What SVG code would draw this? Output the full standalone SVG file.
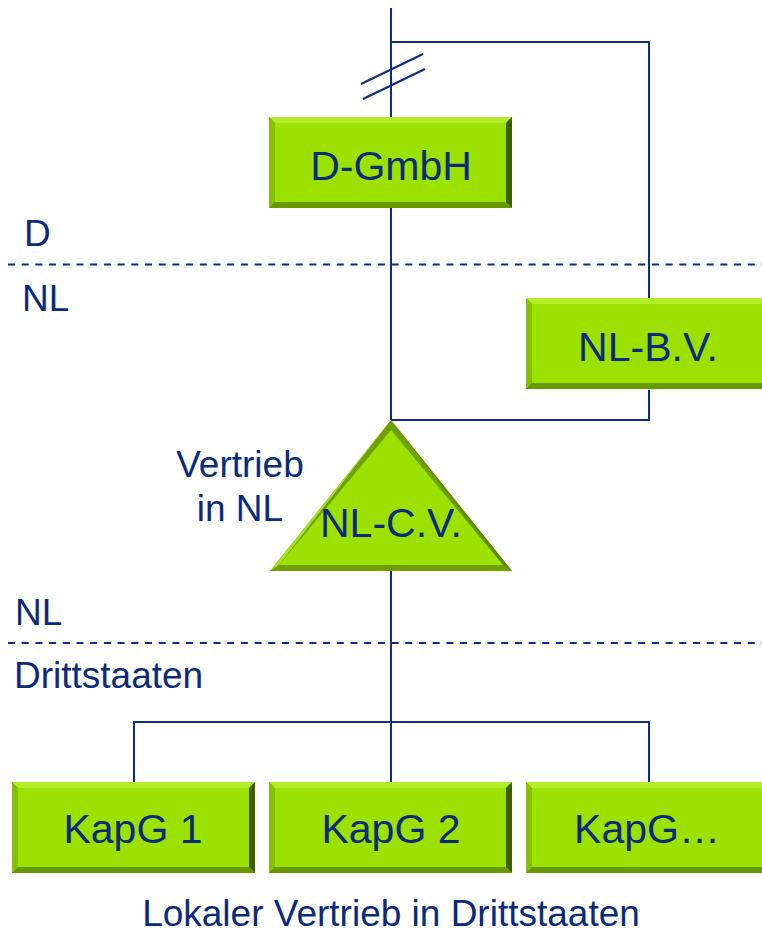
<svg xmlns="http://www.w3.org/2000/svg" xmlns:xlink="http://www.w3.org/1999/xlink" width="762" height="935" viewBox="0 0 762 935">
<style>
.ln{stroke:#0b2d83;stroke-width:2;fill:none}
.dash{stroke:#0b2d83;stroke-width:2;stroke-dasharray:7 6.7;fill:none}
.bt{font-family:"Liberation Sans",Arial,sans-serif;font-size:41px;fill:#0b2a7c;text-anchor:middle}
.lb{font-family:"Liberation Sans",Arial,sans-serif;font-size:37px;fill:#0b2a7c}
</style>
<defs>
<symbol id="box" viewBox="0 0 243 91" width="243" height="91" overflow="visible">
<rect x="0" y="0" width="243" height="91" fill="#7fb800"/>
<polygon points="0,0 243,0 237,6 6,6" fill="#b2ee2a"/>
<polygon points="0,0 6,6 6,85 0,91" fill="#86c000"/>
<polygon points="243,0 243,91 237,85 237,6" fill="#3f5e00"/>
<polygon points="0,91 243,91 237,85 6,85" fill="#689a00"/>
<rect x="6" y="6" width="231" height="79" fill="#9be202"/>
</symbol>
</defs>
<g id="connectors">
<line class="ln" x1="391" y1="8" x2="391" y2="420"/>
<polyline class="ln" points="391,42 649,42 649,298"/>
<polyline class="ln" points="649,390 649,420 391,420"/>
<line class="ln" x1="361" y1="84" x2="423" y2="54"/>
<line class="ln" x1="363" y1="99" x2="425" y2="69"/>
<line class="ln" x1="391" y1="571" x2="391" y2="783"/>
<polyline class="ln" points="134,783 134,722 649,722 649,783"/>
</g>
<g id="borders">
<line class="dash" x1="8" y1="264.5" x2="762" y2="264.5"/>
<line class="dash" x1="8" y1="643" x2="762" y2="643"/>
</g>
<g id="labels">
<text class="lb" x="24" y="246">D</text>
<text class="lb" x="22" y="311">NL</text>
<text class="lb" x="15" y="625">NL</text>
<text class="lb" x="14" y="688">Drittstaaten</text>
<text class="lb" x="240" y="477" text-anchor="middle">Vertrieb</text>
<text class="lb" x="240" y="521" text-anchor="middle">in NL</text>
<text class="lb" x="391" y="926" text-anchor="middle">Lokaler Vertrieb in Drittstaaten</text>
</g>
<g id="d-gmbh">
<use xlink:href="#box" x="269" y="117"/>
<text class="bt" x="391" y="180">D-GmbH</text>
</g>
<g id="nl-bv">
<use xlink:href="#box" x="526" y="298"/>
<text class="bt" x="648" y="361">NL-B.V.</text>
</g>
<g id="nl-cv">
<polygon points="391,420 512,571 270,571" fill="#6f9f00"/>
<polygon points="391,420 270,571 279,565" fill="#a6e21a"/>
<polygon points="391,420 512,571 503,565" fill="#5d8800"/>
<polygon points="391,430 503,565 279,565" fill="#9be202"/>
<text class="bt" x="391" y="537">NL-C.V.</text>
</g>
<g id="kapg1">
<use xlink:href="#box" x="12" y="782"/>
<text class="bt" x="133" y="843">KapG 1</text>
</g>
<g id="kapg2">
<use xlink:href="#box" x="269" y="782"/>
<text class="bt" x="391" y="843">KapG 2</text>
</g>
<g id="kapg3">
<use xlink:href="#box" x="526" y="782"/>
<text class="bt" x="647" y="843">KapG…</text>
</g>
</svg>
